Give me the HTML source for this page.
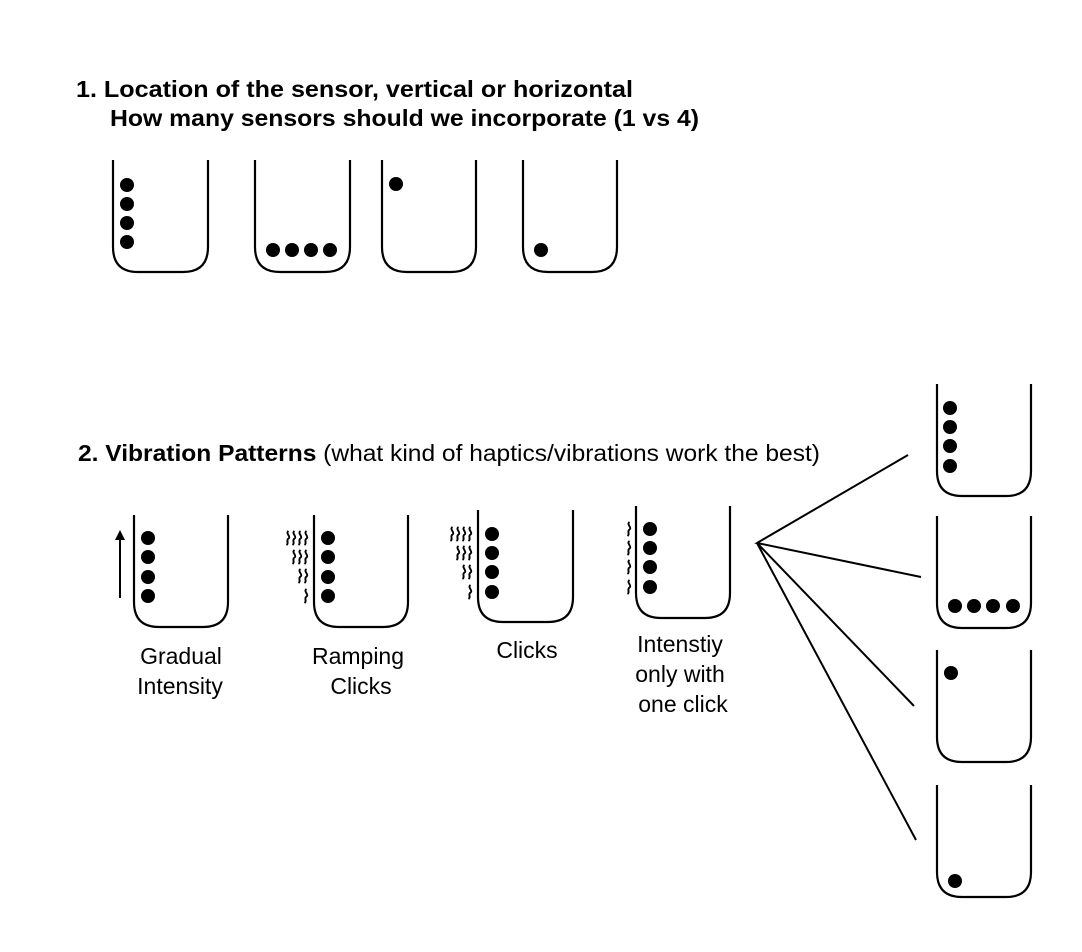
<!DOCTYPE html>
<html><head><meta charset="utf-8"><style>html,body{margin:0;padding:0;background:#fff}svg{display:block}</style></head>
<body>
<svg width="1082" height="952" viewBox="0 0 1082 952" xmlns="http://www.w3.org/2000/svg" font-family="Liberation Sans, sans-serif">
<defs>
<symbol id="sq" overflow="visible"><path d="M2.5,0 C-1,2.5 5.5,5.5 2.5,7.5 C-0.5,9.5 3.5,12 0.5,14" fill="none" stroke="#000" stroke-width="1.9"/></symbol>
</defs>
<g fill="none" stroke="#000" stroke-width="2.2">
<path d="M113,160 V247 Q113,272 138,272 H183 Q208,272 208,247 V160"/>
<path d="M255,160 V247 Q255,272 280,272 H325 Q350,272 350,247 V160"/>
<path d="M382,160 V247 Q382,272 407,272 H451 Q476,272 476,247 V160"/>
<path d="M523,160 V247 Q523,272 548,272 H592 Q617,272 617,247 V160"/>
<path d="M134,515 V602 Q134,627 159,627 H203 Q228,627 228,602 V515"/>
<path d="M314,515 V602 Q314,627 339,627 H383 Q408,627 408,602 V515"/>
<path d="M478,510 V597 Q478,622 503,622 H548 Q573,622 573,597 V510"/>
<path d="M636,506 V593 Q636,618 661,618 H705 Q730,618 730,593 V506"/>
<path d="M937,384 V471 Q937,496 962,496 H1006 Q1031,496 1031,471 V384"/>
<path d="M937,516 V603 Q937,628 962,628 H1006 Q1031,628 1031,603 V516"/>
<path d="M937,650 V737 Q937,762 962,762 H1006 Q1031,762 1031,737 V650"/>
<path d="M937,785 V872 Q937,897 962,897 H1006 Q1031,897 1031,872 V785"/>
<path d="M908,455 L757,543 L921,577 M757,543 L914,706 M757,543 L916,840" stroke-width="2"/>
<path d="M120,598 V538" stroke-width="2"/>
</g>
<path d="M120,530 L115,540 H125 Z" fill="#000"/>
<g fill="#000">
<circle cx="127" cy="185" r="7"/><circle cx="127" cy="204" r="7"/><circle cx="127" cy="223" r="7"/><circle cx="127" cy="242" r="7"/>
<circle cx="273" cy="250" r="7"/><circle cx="292" cy="250" r="7"/><circle cx="311" cy="250" r="7"/><circle cx="330" cy="250" r="7"/>
<circle cx="396" cy="184" r="7"/>
<circle cx="541" cy="250" r="7"/>
<circle cx="148" cy="538" r="7"/><circle cx="148" cy="557" r="7"/><circle cx="148" cy="577" r="7"/><circle cx="148" cy="596" r="7"/>
<circle cx="328" cy="538" r="7"/><circle cx="328" cy="557" r="7"/><circle cx="328" cy="577" r="7"/><circle cx="328" cy="596" r="7"/>
<circle cx="492" cy="534" r="7"/><circle cx="492" cy="553" r="7"/><circle cx="492" cy="572" r="7"/><circle cx="492" cy="592" r="7"/>
<circle cx="650" cy="529" r="7"/><circle cx="650" cy="548" r="7"/><circle cx="650" cy="567" r="7"/><circle cx="650" cy="587" r="7"/>
<circle cx="950" cy="408" r="7"/><circle cx="950" cy="427" r="7"/><circle cx="950" cy="446" r="7"/><circle cx="950" cy="466" r="7"/>
<circle cx="955" cy="606" r="7"/><circle cx="974" cy="606" r="7"/><circle cx="993" cy="606" r="7"/><circle cx="1013" cy="606" r="7"/>
<circle cx="951" cy="673" r="7"/>
<circle cx="955" cy="881" r="7"/>
</g>
<use href="#sq" x="286" y="531"/><use href="#sq" x="292" y="531"/><use href="#sq" x="298" y="531"/><use href="#sq" x="304" y="531"/>
<use href="#sq" x="292" y="550"/><use href="#sq" x="298" y="550"/><use href="#sq" x="304" y="550"/>
<use href="#sq" x="298" y="569"/><use href="#sq" x="304" y="569"/>
<use href="#sq" x="304" y="589"/>
<use href="#sq" x="450" y="527"/><use href="#sq" x="456" y="527"/><use href="#sq" x="462" y="527"/><use href="#sq" x="468" y="527"/>
<use href="#sq" x="456" y="546"/><use href="#sq" x="462" y="546"/><use href="#sq" x="468" y="546"/>
<use href="#sq" x="462" y="565"/><use href="#sq" x="468" y="565"/>
<use href="#sq" x="468" y="585"/>
<use href="#sq" x="627" y="522"/><use href="#sq" x="627" y="541"/><use href="#sq" x="627" y="560"/><use href="#sq" x="627" y="580"/>
<g font-weight="bold" font-size="23" fill="#000">
<text x="76" y="97" textLength="557" lengthAdjust="spacingAndGlyphs">1.  Location of the sensor, vertical or horizontal</text>
<text x="110" y="126" textLength="589" lengthAdjust="spacingAndGlyphs">How many sensors should we incorporate (1 vs 4)</text>
</g>
<text x="78" y="461" font-size="23" fill="#000" textLength="742" lengthAdjust="spacingAndGlyphs"><tspan font-weight="bold">2. Vibration Patterns</tspan> (what kind of haptics/vibrations work the best)</text>
<g font-size="23" fill="#000" text-anchor="middle">
<text x="181" y="664">Gradual</text><text x="180" y="694">Intensity</text>
<text x="358" y="664">Ramping</text><text x="361" y="694">Clicks</text>
<text x="527" y="658">Clicks</text>
<text x="680" y="652">Intenstiy</text><text x="680" y="682">only with</text><text x="683" y="712">one click</text>
</g>
</svg>
</body></html>
